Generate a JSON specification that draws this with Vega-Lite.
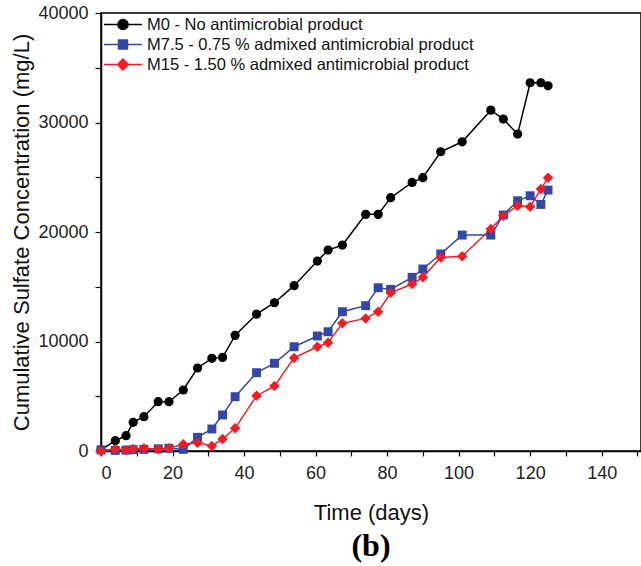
{
  "$schema": "https://vega.github.io/schema/vega-lite/v6.json",
  "autosize": {"type": "none"},
  "padding": {"left": 101, "top": 13, "right": 0, "bottom": 115},
  "width": 540,
  "height": 438,
  "background": "white",
  "config": {
    "font": "Liberation Sans",
    "view": {"stroke": "#000", "strokeWidth": 1.5},
    "axis": {"grid": false, "domainColor": "#000", "domainWidth": 1.5, "tickColor": "#000", "tickWidth": 1.2, "tickSize": 5, "labelFont": "Liberation Sans", "labelFontSize": 18, "labelColor": "#222", "titleFont": "Liberation Sans", "titleFontSize": 22, "titleFontWeight": "normal", "titleColor": "#111"}
  },
  "title": {"text": "(b)", "orient": "bottom", "font": "Liberation Serif", "fontWeight": "bold", "fontSize": 32, "color": "#000", "offset": 8},
  "data": {"values": [
    {"series": "M0 - No antimicrobial product", "day": 0, "value": 100},
    {"series": "M0 - No antimicrobial product", "day": 4, "value": 940},
    {"series": "M0 - No antimicrobial product", "day": 7, "value": 1400},
    {"series": "M0 - No antimicrobial product", "day": 9, "value": 2620},
    {"series": "M0 - No antimicrobial product", "day": 12, "value": 3130},
    {"series": "M0 - No antimicrobial product", "day": 16, "value": 4500},
    {"series": "M0 - No antimicrobial product", "day": 19, "value": 4500},
    {"series": "M0 - No antimicrobial product", "day": 23, "value": 5570},
    {"series": "M0 - No antimicrobial product", "day": 27, "value": 7580},
    {"series": "M0 - No antimicrobial product", "day": 31, "value": 8460},
    {"series": "M0 - No antimicrobial product", "day": 34, "value": 8550},
    {"series": "M0 - No antimicrobial product", "day": 37.5, "value": 10560},
    {"series": "M0 - No antimicrobial product", "day": 43.5, "value": 12500},
    {"series": "M0 - No antimicrobial product", "day": 48.5, "value": 13540},
    {"series": "M0 - No antimicrobial product", "day": 54, "value": 15100},
    {"series": "M0 - No antimicrobial product", "day": 60.5, "value": 17350},
    {"series": "M0 - No antimicrobial product", "day": 63.5, "value": 18350},
    {"series": "M0 - No antimicrobial product", "day": 67.5, "value": 18810},
    {"series": "M0 - No antimicrobial product", "day": 74, "value": 21610},
    {"series": "M0 - No antimicrobial product", "day": 77.5, "value": 21610},
    {"series": "M0 - No antimicrobial product", "day": 81, "value": 23130},
    {"series": "M0 - No antimicrobial product", "day": 87, "value": 24530},
    {"series": "M0 - No antimicrobial product", "day": 90, "value": 24960},
    {"series": "M0 - No antimicrobial product", "day": 95, "value": 27330},
    {"series": "M0 - No antimicrobial product", "day": 101, "value": 28240},
    {"series": "M0 - No antimicrobial product", "day": 109, "value": 31130},
    {"series": "M0 - No antimicrobial product", "day": 112.5, "value": 30310},
    {"series": "M0 - No antimicrobial product", "day": 116.5, "value": 28940},
    {"series": "M0 - No antimicrobial product", "day": 120, "value": 33630},
    {"series": "M0 - No antimicrobial product", "day": 123, "value": 33630},
    {"series": "M0 - No antimicrobial product", "day": 125, "value": 33350},
    {"series": "M7.5 - 0.75 % admixed antimicrobial product", "day": 0, "value": 100},
    {"series": "M7.5 - 0.75 % admixed antimicrobial product", "day": 4, "value": 50},
    {"series": "M7.5 - 0.75 % admixed antimicrobial product", "day": 7, "value": 80},
    {"series": "M7.5 - 0.75 % admixed antimicrobial product", "day": 9, "value": 120},
    {"series": "M7.5 - 0.75 % admixed antimicrobial product", "day": 12, "value": 150},
    {"series": "M7.5 - 0.75 % admixed antimicrobial product", "day": 16, "value": 200},
    {"series": "M7.5 - 0.75 % admixed antimicrobial product", "day": 19, "value": 250},
    {"series": "M7.5 - 0.75 % admixed antimicrobial product", "day": 23, "value": 150},
    {"series": "M7.5 - 0.75 % admixed antimicrobial product", "day": 27, "value": 1250},
    {"series": "M7.5 - 0.75 % admixed antimicrobial product", "day": 31, "value": 2010},
    {"series": "M7.5 - 0.75 % admixed antimicrobial product", "day": 34, "value": 3290},
    {"series": "M7.5 - 0.75 % admixed antimicrobial product", "day": 37.5, "value": 4960},
    {"series": "M7.5 - 0.75 % admixed antimicrobial product", "day": 43.5, "value": 7150},
    {"series": "M7.5 - 0.75 % admixed antimicrobial product", "day": 48.5, "value": 8010},
    {"series": "M7.5 - 0.75 % admixed antimicrobial product", "day": 54, "value": 9520},
    {"series": "M7.5 - 0.75 % admixed antimicrobial product", "day": 60.5, "value": 10500},
    {"series": "M7.5 - 0.75 % admixed antimicrobial product", "day": 63.5, "value": 10890},
    {"series": "M7.5 - 0.75 % admixed antimicrobial product", "day": 67.5, "value": 12720},
    {"series": "M7.5 - 0.75 % admixed antimicrobial product", "day": 74, "value": 13270},
    {"series": "M7.5 - 0.75 % admixed antimicrobial product", "day": 77.5, "value": 14910},
    {"series": "M7.5 - 0.75 % admixed antimicrobial product", "day": 81, "value": 14760},
    {"series": "M7.5 - 0.75 % admixed antimicrobial product", "day": 87, "value": 15860},
    {"series": "M7.5 - 0.75 % admixed antimicrobial product", "day": 90, "value": 16620},
    {"series": "M7.5 - 0.75 % admixed antimicrobial product", "day": 95, "value": 17990},
    {"series": "M7.5 - 0.75 % admixed antimicrobial product", "day": 101, "value": 19720},
    {"series": "M7.5 - 0.75 % admixed antimicrobial product", "day": 109, "value": 19720},
    {"series": "M7.5 - 0.75 % admixed antimicrobial product", "day": 112.5, "value": 21550},
    {"series": "M7.5 - 0.75 % admixed antimicrobial product", "day": 116.5, "value": 22850},
    {"series": "M7.5 - 0.75 % admixed antimicrobial product", "day": 120, "value": 23310},
    {"series": "M7.5 - 0.75 % admixed antimicrobial product", "day": 123, "value": 22520},
    {"series": "M7.5 - 0.75 % admixed antimicrobial product", "day": 125, "value": 23830},
    {"series": "M15 - 1.50 % admixed antimicrobial product", "day": 0, "value": 0},
    {"series": "M15 - 1.50 % admixed antimicrobial product", "day": 4, "value": 180},
    {"series": "M15 - 1.50 % admixed antimicrobial product", "day": 7, "value": 80},
    {"series": "M15 - 1.50 % admixed antimicrobial product", "day": 9, "value": 180},
    {"series": "M15 - 1.50 % admixed antimicrobial product", "day": 12, "value": 250},
    {"series": "M15 - 1.50 % admixed antimicrobial product", "day": 16, "value": 150},
    {"series": "M15 - 1.50 % admixed antimicrobial product", "day": 19, "value": 250},
    {"series": "M15 - 1.50 % admixed antimicrobial product", "day": 23, "value": 610},
    {"series": "M15 - 1.50 % admixed antimicrobial product", "day": 27, "value": 760},
    {"series": "M15 - 1.50 % admixed antimicrobial product", "day": 31, "value": 460},
    {"series": "M15 - 1.50 % admixed antimicrobial product", "day": 34, "value": 1100},
    {"series": "M15 - 1.50 % admixed antimicrobial product", "day": 37.5, "value": 2070},
    {"series": "M15 - 1.50 % admixed antimicrobial product", "day": 43.5, "value": 5050},
    {"series": "M15 - 1.50 % admixed antimicrobial product", "day": 48.5, "value": 5930},
    {"series": "M15 - 1.50 % admixed antimicrobial product", "day": 54, "value": 8500},
    {"series": "M15 - 1.50 % admixed antimicrobial product", "day": 60.5, "value": 9520},
    {"series": "M15 - 1.50 % admixed antimicrobial product", "day": 63.5, "value": 9890},
    {"series": "M15 - 1.50 % admixed antimicrobial product", "day": 67.5, "value": 11660},
    {"series": "M15 - 1.50 % admixed antimicrobial product", "day": 74, "value": 12110},
    {"series": "M15 - 1.50 % admixed antimicrobial product", "day": 77.5, "value": 12720},
    {"series": "M15 - 1.50 % admixed antimicrobial product", "day": 81, "value": 14450},
    {"series": "M15 - 1.50 % admixed antimicrobial product", "day": 87, "value": 15250},
    {"series": "M15 - 1.50 % admixed antimicrobial product", "day": 90, "value": 15860},
    {"series": "M15 - 1.50 % admixed antimicrobial product", "day": 95, "value": 17680},
    {"series": "M15 - 1.50 % admixed antimicrobial product", "day": 101, "value": 17790},
    {"series": "M15 - 1.50 % admixed antimicrobial product", "day": 109, "value": 20270},
    {"series": "M15 - 1.50 % admixed antimicrobial product", "day": 112.5, "value": 21480},
    {"series": "M15 - 1.50 % admixed antimicrobial product", "day": 116.5, "value": 22400},
    {"series": "M15 - 1.50 % admixed antimicrobial product", "day": 120, "value": 22300},
    {"series": "M15 - 1.50 % admixed antimicrobial product", "day": 123, "value": 23920},
    {"series": "M15 - 1.50 % admixed antimicrobial product", "day": 125, "value": 24950}
  ]},
  "encoding": {
    "x": {"field": "day", "type": "quantitative", "scale": {"domain": [0, 151], "nice": false, "zero": false},
      "axis": {"title": "Time (days)", "values": [0,10,20,30,40,50,60,70,80,90,100,110,120,130,140,150], "labelExpr": "datum.value % 20 === 0 ? datum.label : ''", "format": "d", "labelPadding": 8, "titlePadding": 20}},
    "y": {"field": "value", "type": "quantitative", "scale": {"domain": [0, 40000], "nice": false},
      "axis": {"title": "Cumulative Sulfate Concentration (mg/L)", "values": [0,5000,10000,15000,20000,25000,30000,35000,40000], "labelExpr": "datum.value % 10000 === 0 ? datum.label : ''", "format": "d", "tickSize": 6, "labelPadding": 7, "titlePadding": 4}},
    "color": {"field": "series", "type": "nominal",
      "scale": {"domain": ["M0 - No antimicrobial product", "M7.5 - 0.75 % admixed antimicrobial product", "M15 - 1.50 % admixed antimicrobial product"], "range": ["#000000", "#3347a8", "#f21c24"]},
      "legend": {"orient": "none", "legendX": 13.5, "legendY": 3, "title": null, "padding": 0, "symbolSize": 225, "labelFontSize": 16.5, "labelFont": "Liberation Sans", "labelColor": "#111", "labelLimit": 500, "labelOffset": 15.5, "symbolStrokeWidth": 1.5, "rowPadding": 3,
        "encode": {"symbols": {"update": {
          "shape": {"signal": "datum.value === 'M0 - No antimicrobial product' ? 'M-2.53,0L2.53,0M-0.67,0A0.67,0.67 0 1,0 0.67,0A0.67,0.67 0 1,0 -0.67,0' : datum.value === 'M7.5 - 0.75 % admixed antimicrobial product' ? 'M-2.53,0L2.53,0M-0.6,-0.6L0.6,-0.6L0.6,0.6L-0.6,0.6Z' : 'M-2.53,0L2.53,0M0,-0.73L0.73,0L0,0.73L-0.73,0Z'"},
          "fill": {"scale": "color", "field": "value"},
          "stroke": {"scale": "color", "field": "value"},
          "strokeWidth": {"value": 1.5},
          "opacity": {"value": 1}
        }}}}
    }
  },
  "layer": [
    {"mark": {"type": "line", "strokeWidth": 1.5}},
    {"transform": [{"filter": "datum.series === 'M0 - No antimicrobial product'"}],
      "mark": {"type": "point", "shape": "circle", "filled": true, "opacity": 1, "size": 85}},
    {"transform": [{"filter": "datum.series === 'M7.5 - 0.75 % admixed antimicrobial product'"}],
      "mark": {"type": "point", "shape": "square", "filled": true, "opacity": 1, "size": 80}},
    {"transform": [{"filter": "datum.series === 'M15 - 1.50 % admixed antimicrobial product'"}],
      "mark": {"type": "point", "shape": "diamond", "filled": true, "opacity": 1, "size": 110}}
  ]
}
